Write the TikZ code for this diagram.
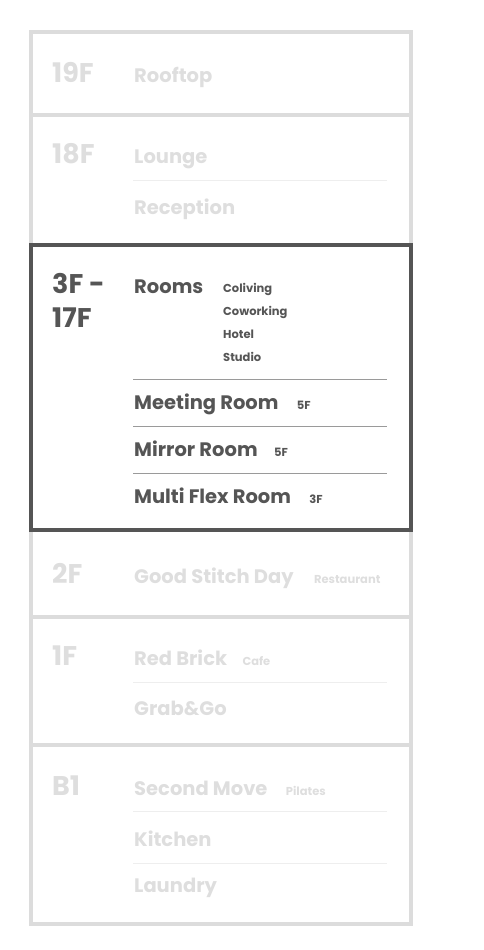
\documentclass[tikz,border=0pt]{standalone}
\usepackage{fontspec}
\setmainfont{Poppins}
\usetikzlibrary{positioning}

\definecolor{pale}{HTML}{DCDCDC}
\definecolor{paletext}{HTML}{DEDEDE}
\definecolor{paleline}{HTML}{EEEEEE}
\definecolor{ink}{HTML}{555555}
\definecolor{inkline}{HTML}{9A9A9A}

\tikzset{
  floor/.style={anchor=base west, inner sep=0pt, font=\bfseries\fontsize{27}{27}\selectfont},
  room/.style={anchor=base west, inner sep=0pt, font=\bfseries\fontsize{19.5}{19.5}\selectfont},
  tag/.style={anchor=base west, inner sep=0pt, font=\bfseries\fontsize{11.5}{11.5}\selectfont},
  off/.style={text=paletext},
  on/.style={text=ink},
  box/.style={draw=pale, line width=4pt},
  activebox/.style={draw=ink, line width=3.5pt},
  sep/.style={draw=paleline, line width=1pt},
  activesep/.style={draw=inkline, line width=1pt}
}

\begin{document}
\begin{tikzpicture}[x=1pt, y=-1pt]
        \useasboundingbox (0,0) rectangle (484,950);

        % Floors
        \draw[box] (31,32) rectangle (411,115);
        \draw[box] (31,115) rectangle (411,245);
        \draw[box] (31,530) rectangle (411,617);
        \draw[box] (31,617) rectangle (411,745);
        \draw[box] (31,745) rectangle (411,924);
        \draw[activebox] (31,245) rectangle (411,530);

        % 19F
        \node (f19) [floor, off] at (52,82) {19F};
        \node (rooftop) [room, off] at (134,82) {Rooftop};

        % 18F
        \node (f18) [floor, off] at (52,163) {18F};
        \node (lounge) [room, off] at (134,163) {Lounge};
        \draw[sep] (133,180) -- (387,180);
        \node (reception) [room, off] at (134,214) {Reception};

        % 3F - 17F
        \node (f3) [floor, on] at (52,293) {3F -};
        \node (f17) [floor, on] at (52,327) {17F};
        \node (rooms) [room, on] at (134,293) {Rooms};
        \node (coliving) [tag, on] at (223,292) {Coliving};
        \node (coworking) [tag, on] at (223,315) {Coworking};
        \node (hotel) [tag, on] at (223,338) {Hotel};
        \node (studio) [tag, on] at (223,361) {Studio};
        \draw[activesep] (133,379.5) -- (387,379.5);
        \node (meeting) [room, on] at (134,409) {Meeting Room};
        \node (meeting5) [tag, on, right=18pt of meeting.base east, anchor=base west] {5F};
        \draw[activesep] (133,426.5) -- (387,426.5);
        \node (mirror) [room, on] at (134,456) {Mirror Room};
        \node (mirror5) [tag, on, right=16pt of mirror.base east, anchor=base west] {5F};
        \draw[activesep] (133,473.5) -- (387,473.5);
        \node (flex) [room, on] at (134,503) {Multi Flex Room};
        \node (flex3) [tag, on, right=18pt of flex.base east, anchor=base west] {3F};

        % 2F
        \node (f2) [floor, off] at (52,583) {2F};
        \node (stitch) [room, off] at (134,583) {Good Stitch Day};
        \node (restaurant) [tag, off, right=20pt of stitch.base east, anchor=base west] {Restaurant};

        % 1F
        \node (f1) [floor, off] at (52,665) {1F};
        \node (brick) [room, off] at (134,665) {Red Brick};
        \node (cafe) [tag, off, right=15pt of brick.base east, anchor=base west] {Cafe};
        \draw[sep] (133,682) -- (387,682);
        \node (grab) [room, off] at (134,715) {Grab\&Go};

        % B1
        \node (b1) [floor, off] at (52,795) {B1};
        \node (second) [room, off] at (134,795) {Second Move};
        \node (pilates) [tag, off, right=18pt of second.base east, anchor=base west] {Pilates};
        \draw[sep] (133,811) -- (387,811);
        \node (kitchen) [room, off] at (134,846) {Kitchen};
        \draw[sep] (133,863) -- (387,863);
        \node (laundry) [room, off] at (134,892) {Laundry};

    \end{tikzpicture}
\end{document}
